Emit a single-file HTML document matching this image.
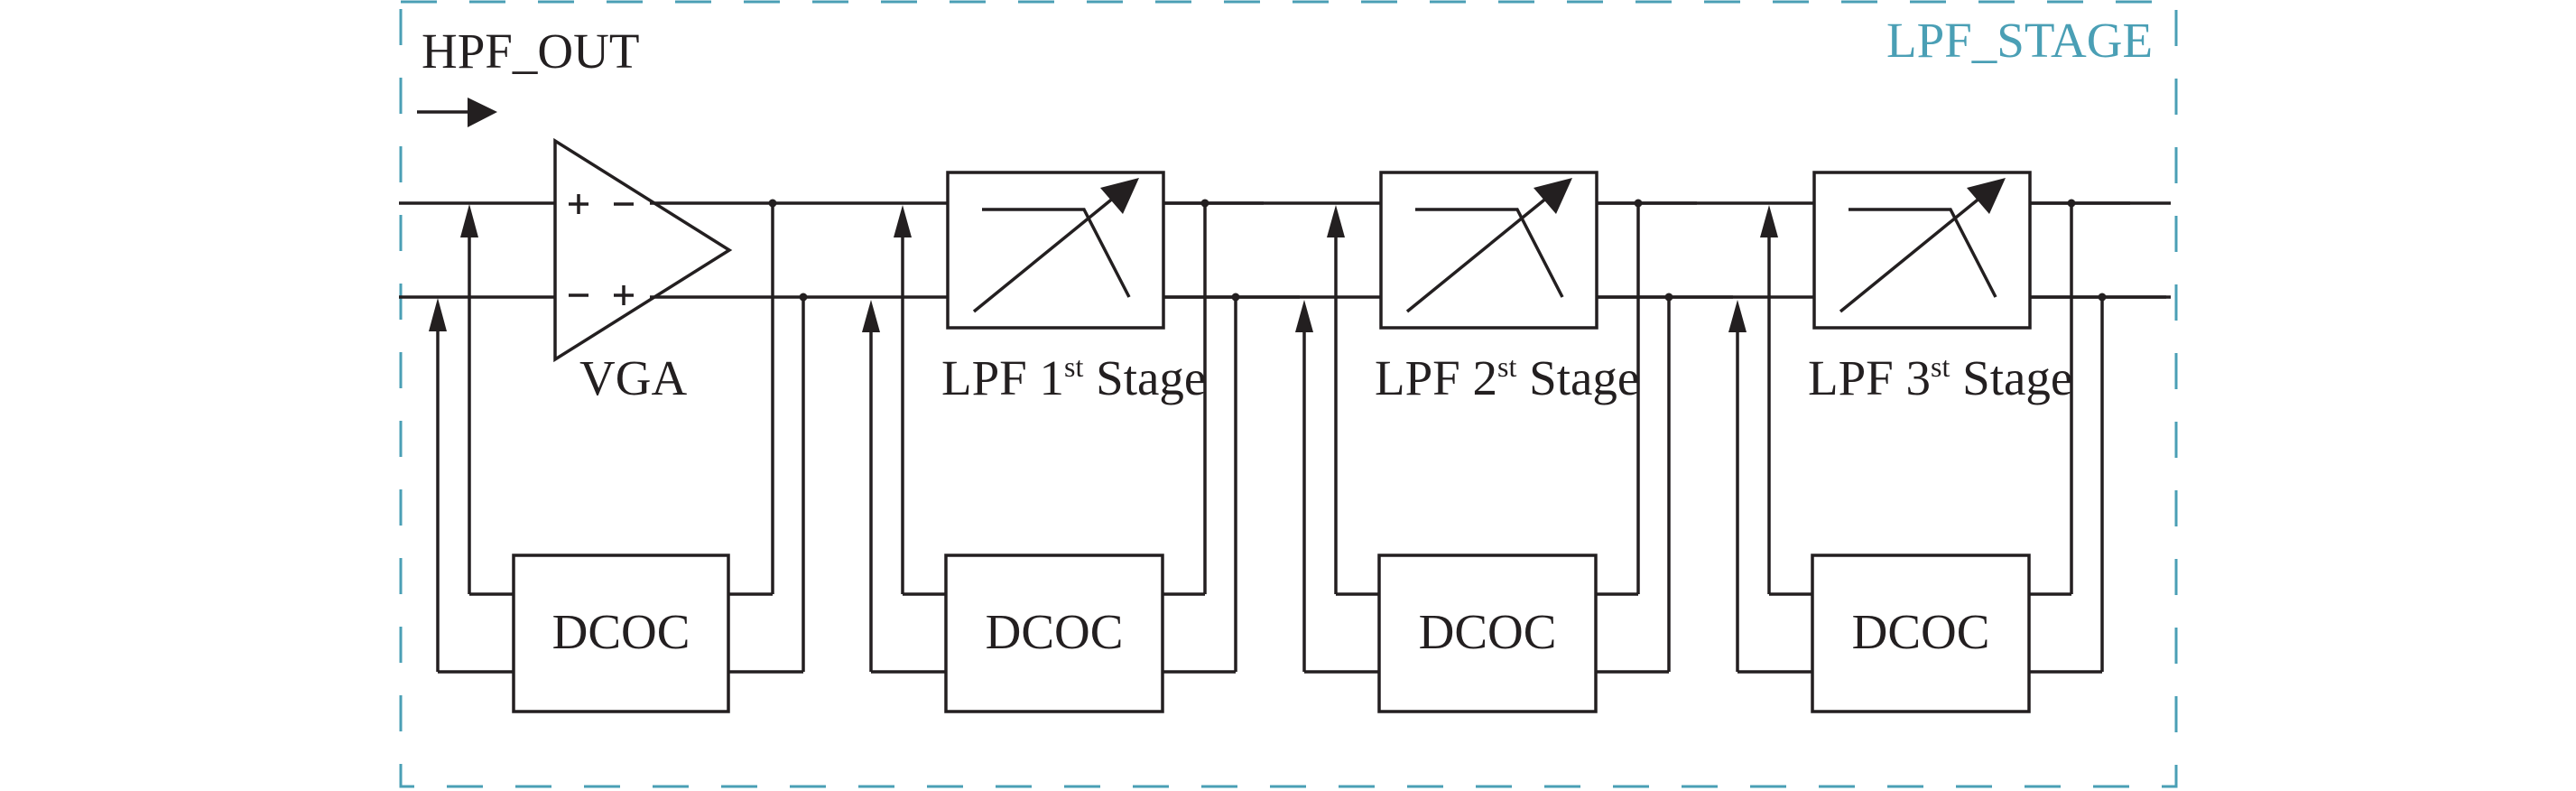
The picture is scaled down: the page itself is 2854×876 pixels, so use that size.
<!DOCTYPE html>
<html><head><meta charset="utf-8"><style>
html,body{margin:0;padding:0;background:#fff;}
svg{display:block;}
text{font-family:"Liberation Serif",serif;fill:#231f20;}
</style></head><body>
<svg width="2854" height="876" viewBox="0 0 2854 876" xmlns="http://www.w3.org/2000/svg">
<defs>
<g id="stage" stroke="#231f20" stroke-width="3.5" fill="none">
  <!-- feedback arrows -->
  <line x1="1000" y1="255" x2="1000" y2="658"/>
  <line x1="1000" y1="658" x2="1048" y2="658"/>
  <polygon points="1000,227 990,263 1010,263" fill="#231f20" stroke="none"/>
  <line x1="965" y1="360" x2="965" y2="744"/>
  <line x1="965" y1="744" x2="1048" y2="744"/>
  <polygon points="965,332 955,368 975,368" fill="#231f20" stroke="none"/>
  <!-- box -->
  <rect x="1050" y="191" width="239" height="172"/>
  <polyline points="1088,232 1201,232 1251,329"/>
  <line x1="1079" y1="345" x2="1240" y2="214"/>
  <polygon points="1262,197 1219,208 1244,237" fill="#231f20" stroke="none"/>
  <!-- outputs -->
  <line x1="1289" y1="225" x2="1400" y2="225"/>
  <line x1="1289" y1="329" x2="1440" y2="329"/>
  <circle cx="1335" cy="225" r="4.5" fill="#231f20" stroke="none"/>
  <circle cx="1369" cy="329" r="4.5" fill="#231f20" stroke="none"/>
  <line x1="1335" y1="225" x2="1335" y2="658"/>
  <line x1="1288" y1="658" x2="1335" y2="658"/>
  <line x1="1369" y1="329" x2="1369" y2="744"/>
  <line x1="1288" y1="744" x2="1369" y2="744"/>
  <!-- DCOC -->
  <rect x="1048" y="615" width="240" height="173"/>
</g>
</defs>
<!-- dashed frame -->
<rect x="444" y="2" width="1967" height="869" fill="none" stroke="#4a9fb5" stroke-width="3" stroke-dasharray="40 36"/>
<text x="467" y="75" font-size="55">HPF_OUT</text>
<text x="2090" y="63" font-size="55" style="fill:#4a9fb5">LPF_STAGE</text>
<!-- input arrow -->
<line x1="462" y1="124" x2="525" y2="124" stroke="#231f20" stroke-width="3.5"/>
<polygon points="551,124 518,108 518,141" fill="#231f20"/>
<g stroke="#231f20" stroke-width="3.5" fill="none">
  <!-- input lines -->
  <line x1="442" y1="225" x2="615" y2="225"/>
  <line x1="442" y1="329" x2="615" y2="329"/>
  <!-- VGA triangle -->
  <polygon points="615,156 615,398 808,277"/>
  <line x1="630" y1="226" x2="652" y2="226"/><line x1="641" y1="215" x2="641" y2="237"/>
  <line x1="680" y1="226" x2="702" y2="226"/>
  <line x1="630" y1="327" x2="652" y2="327"/>
  <line x1="680" y1="327" x2="702" y2="327"/><line x1="691" y1="316" x2="691" y2="338"/>
  <line x1="720" y1="225" x2="1050" y2="225"/>
  <line x1="720" y1="329" x2="1050" y2="329"/>
  <!-- VGA feedback -->
  <line x1="520" y1="255" x2="520" y2="658"/><line x1="520" y1="658" x2="569" y2="658"/>
  <line x1="485" y1="360" x2="485" y2="744"/><line x1="485" y1="744" x2="569" y2="744"/>
  <rect x="569" y="615" width="238" height="173"/>
  <line x1="856" y1="225" x2="856" y2="658"/><line x1="807" y1="658" x2="856" y2="658"/>
  <line x1="890" y1="329" x2="890" y2="744"/><line x1="807" y1="744" x2="890" y2="744"/>
  <!-- lines between stages -->
  <line x1="1289" y1="225" x2="2405" y2="225"/>
  <line x1="1289" y1="329" x2="2405" y2="329"/>
</g>
<polygon points="520,226 510,263 530,263" fill="#231f20"/>
<polygon points="485,330 475,367 495,367" fill="#231f20"/>
<circle cx="856" cy="225" r="4.5" fill="#231f20"/>
<circle cx="890" cy="329" r="4.5" fill="#231f20"/>
<rect x="1050" y="191" width="239" height="172" fill="#fff"/>
<rect x="1530" y="191" width="239" height="172" fill="#fff"/>
<rect x="2010" y="191" width="239" height="172" fill="#fff"/>
<use href="#stage"/>
<use href="#stage" transform="translate(480,0)"/>
<use href="#stage" transform="translate(960,0)"/>
<text x="642" y="437" font-size="55">VGA</text>
<text x="1043" y="437" font-size="55">LPF 1<tspan font-size="32" dy="-20">st</tspan><tspan dy="20"> Stage</tspan></text>
<text x="1523" y="437" font-size="55">LPF 2<tspan font-size="32" dy="-20">st</tspan><tspan dy="20"> Stage</tspan></text>
<text x="2003" y="437" font-size="55">LPF 3<tspan font-size="32" dy="-20">st</tspan><tspan dy="20"> Stage</tspan></text>
<text x="688" y="718" font-size="55" text-anchor="middle">DCOC</text>
<text x="1168" y="718" font-size="55" text-anchor="middle">DCOC</text>
<text x="1648" y="718" font-size="55" text-anchor="middle">DCOC</text>
<text x="2128" y="718" font-size="55" text-anchor="middle">DCOC</text>
</svg>
</body></html>
